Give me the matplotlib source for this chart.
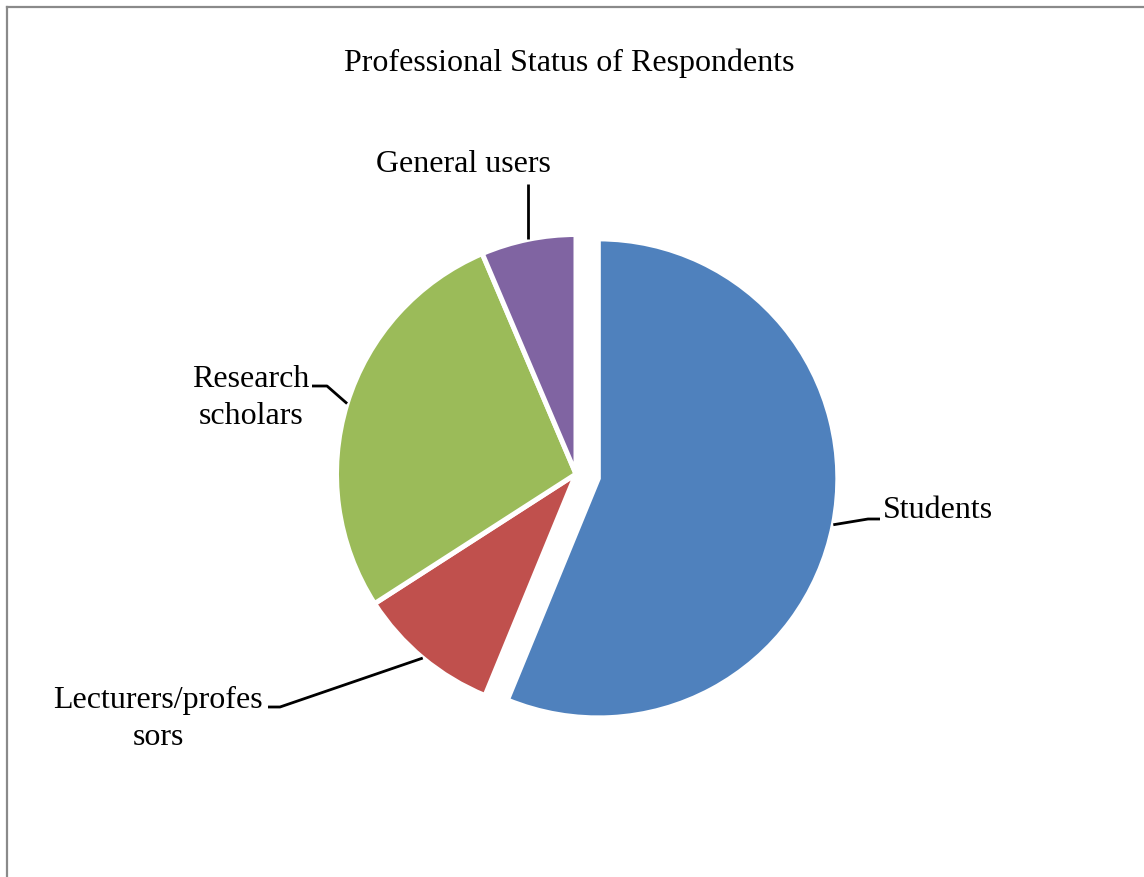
import numpy as np
import matplotlib.pyplot as plt
from matplotlib.lines import Line2D

# Share of respondents by professional status (%)
categories = ["Students", "Lecturers/profes\nsors", "Research\nscholars", "General users"]
shares = [56.2, 9.7, 27.7, 6.4]
colors = ["#4F81BD", "#C0504D", "#9BBB59", "#8064A2"]
explode = [0.095, 0, 0, 0]

W, H = 1144, 878
CX, CY, R = 576, 475, 239.5  # pie centre and radius in pixels


def px(x, y):
    """Pixel position (from the top-left) to data units of the pie axes."""
    return (x - CX) / R, (CY - y) / R


plt.rcParams["font.family"] = ["Liberation Serif", "DejaVu Serif"]

fig = plt.figure(figsize=(W / 100, H / 100), dpi=100)
ax = fig.add_axes([0, 0, 1, 1])

wedges, _ = ax.pie(
    shares, colors=colors, explode=explode, startangle=90, counterclock=False,
    radius=1, center=(0, 0),
    wedgeprops=dict(edgecolor="white", linewidth=3.6),
)

# pie() resets the limits, so map the axes to the figure pixels afterwards
ax.set_xlim(-CX / R, (W - CX) / R)
ax.set_ylim(-(H - CY) / R, CY / R)
ax.set_aspect("equal")
ax.axis("off")

# label text centre, elbow and end of the leader line (pixels)
label_layout = [
    dict(text=(883, 511), ha="left", elbow=(868, 520), end=(880, 520)),
    dict(text=(158, 719), ha="center", elbow=(280, 708), end=(268, 708)),
    dict(text=(251, 398), ha="center", elbow=(327, 387), end=(312, 387)),
    dict(text=(463, 165), ha="center", elbow=None, end=None),
]

for w, name, lay in zip(wedges, categories, label_layout):
    mid = np.deg2rad((w.theta1 + w.theta2) / 2)
    cx, cy = w.center
    ax_pt = (cx + w.r * np.cos(mid), cy + w.r * np.sin(mid))
    if lay["elbow"] is None:
        top = px(0, 185)[1]
        xs, ys = [ax_pt[0], ax_pt[0]], [ax_pt[1], top]
    else:
        ex, ey = px(*lay["elbow"])
        nx, ny = px(*lay["end"])
        xs, ys = [ax_pt[0], ex, nx], [ax_pt[1], ey, ny]
    ax.plot(xs, ys, color="black", lw=2, solid_capstyle="butt", zorder=3)
    tx, ty = px(*lay["text"])
    ax.text(tx, ty, name, ha=lay["ha"], va="center", fontsize=23,
            linespacing=1.35, multialignment="center")

fig.text(569 / W, 1 - 63 / H, "Professional Status of Respondents",
         ha="center", va="center", fontsize=23)

# chart area border (left and top edges show)
fig.add_artist(Line2D([7 / W, 7 / W], [0, 1 - 8 / H], transform=fig.transFigure,
                      color="#8a8a8a", lw=1.6))
fig.add_artist(Line2D([7 / W, 1], [1 - 8 / H, 1 - 8 / H], transform=fig.transFigure,
                      color="#8a8a8a", lw=1.6))

fig.savefig("out.png", dpi=100, facecolor="white")
